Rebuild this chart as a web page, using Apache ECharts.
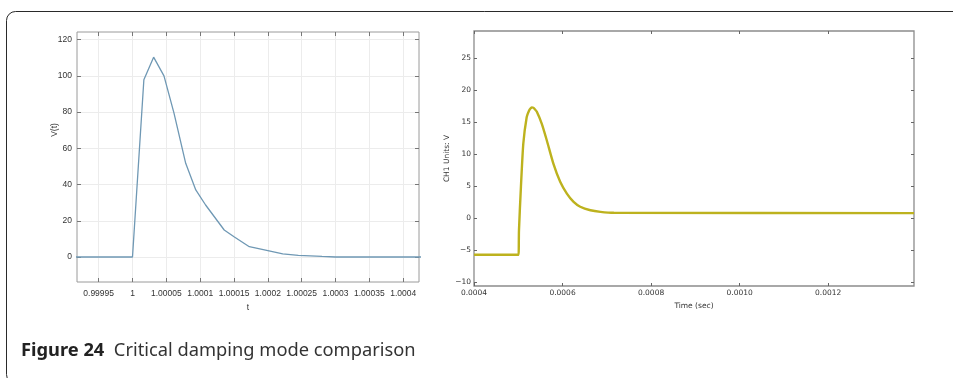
<!DOCTYPE html>
<html>
<head>
<meta charset="utf-8">
<script src="https://cdn.jsdelivr.net/npm/echarts@6/dist/echarts.min.js"></script>
<style>
html,body{margin:0;padding:0;background:#fff;}
#c{width:953px;height:378px;}
</style>
</head>
<body>
<div id="c"></div>
<script>
// ---- Left chart (simulation) ----
const leftT = [0.99990, 1.0, 1.0000168, 1.0000312, 1.0000465, 1.0000613, 1.0000786, 1.0000935, 1.000108, 1.0001355, 1.00015, 1.0001726, 1.0002, 1.000222, 1.000245, 1.00028, 1.0003, 1.00045];
const leftV = [0, 0, 97.8, 110.3, 100, 79.4, 51.7, 37, 28.7, 14.9, 11.2, 5.7, 3.5, 1.7, 0.9, 0.3, 0, 0];
const leftXTicks = [0.99995, 1, 1.00005, 1.0001, 1.00015, 1.0002, 1.00025, 1.0003, 1.00035, 1.0004];
const leftXLabels = ['0.99995', '1', '1.00005', '1.0001', '1.00015', '1.0002', '1.00025', '1.0003', '1.00035', '1.0004'];
const leftYTicks = [0, 20, 40, 60, 80, 100, 120];

// ---- Right chart (oscilloscope) ----
const rightT = [0.0004, 0.000501, 0.0005015, 0.0005016, 0.000506, 0.0005114, 0.000519, 0.000524, 0.000528, 0.000531, 0.000534, 0.000537, 0.0005417, 0.000553, 0.0005644, 0.0005795, 0.0005947, 0.0006098, 0.000625, 0.00064, 0.000663, 0.0006856, 0.000716, 0.001394];
const rightV = [-5.7, -5.7, -5.7, -1.9, 4.9, 11.7, 15.8, 16.8, 17.2, 17.35, 17.3, 17.1, 16.7, 14.8, 12.2, 8.5, 5.7, 3.85, 2.55, 1.8, 1.25, 1.0, 0.85, 0.8];
const rightXTicks = [0.0004, 0.0006, 0.0008, 0.0010, 0.0012];
const rightXLabels = ['0.0004', '0.0006', '0.0008', '0.0010', '0.0012'];
const rightYTicks = [-10, -5, 0, 5, 10, 15, 20, 25];
const rightYLabels = ['\u221210', '\u22125', '0', '5', '10', '15', '20', '25'];

const leftData = leftT.map((t, i) => [t, leftV[i]]);
const rightData = rightT.map((t, i) => [t, rightV[i]]);

const chart = echarts.init(document.getElementById('c'), null, {renderer: 'canvas'});

const lFont = {fontFamily: 'Liberation Sans, Arial, sans-serif', fontSize: 8.5, color: '#333'};
const rFont = {fontFamily: 'DejaVu Sans, sans-serif', fontSize: 7.5, color: '#333'};

function nearestLabel(ticks, labels, v) {
  let best = 0, bd = 1e9;
  ticks.forEach((t, i) => { const d = Math.abs(t - v); if (d < bd) { bd = d; best = i; } });
  return labels[best];
}
const fmtLeft = v => nearestLabel(leftXTicks, leftXLabels, v);
const fmtRightX = v => nearestLabel(rightXTicks, rightXLabels, v);
const fmtRightY = v => nearestLabel(rightYTicks, rightYLabels, v);

const LXMIN = 0.999918, LXMAX = 1.0004233, LYMIN = -13.8, LYMAX = 124.2;
const RXMIN = 0.0004, RXMAX = 0.001394, RYMIN = -10.6, RYMAX = 29.3;

function tickAxis(extra) {
  return Object.assign({
    type: 'value',
    axisLine: {show: false, onZero: false},
    splitLine: {show: false}
  }, extra);
}

const option = {
  animation: false,
  backgroundColor: '#fff',
  grid: [
    {left: 77, top: 32, width: 342, height: 250, show: true, borderColor: '#9a9a9a', borderWidth: 1, backgroundColor: 'transparent'},
    {left: 474, top: 31, width: 440, height: 255, show: true, borderColor: '#8c8c8c', borderWidth: 1.3, backgroundColor: 'transparent'}
  ],
  xAxis: [
    tickAxis({gridIndex: 0, min: LXMIN, max: LXMAX, position: 'bottom',
     name: 't', nameLocation: 'middle', nameGap: 19, nameTextStyle: lFont,
     axisTick: {show: true, inside: true, length: 4, customValues: leftXTicks, lineStyle: {color: '#777'}},
     axisLabel: {customValues: leftXTicks, formatter: fmtLeft, margin: 7, ...lFont},
     splitLine: {show: true, lineStyle: {color: '#ececec', width: 1}}}),
    tickAxis({gridIndex: 0, min: LXMIN, max: LXMAX, position: 'top',
     axisTick: {show: true, inside: true, length: 4, customValues: leftXTicks, lineStyle: {color: '#777'}},
     axisLabel: {show: false}}),
    tickAxis({gridIndex: 1, min: RXMIN, max: RXMAX, position: 'bottom',
     name: 'Time (sec)', nameLocation: 'middle', nameGap: 12, nameTextStyle: rFont,
     axisTick: {show: true, inside: true, length: 3, customValues: rightXTicks, lineStyle: {color: '#666'}},
     axisLabel: {customValues: rightXTicks, formatter: fmtRightX, margin: 3, ...rFont}}),
    tickAxis({gridIndex: 1, min: RXMIN, max: RXMAX, position: 'top',
     axisTick: {show: true, inside: true, length: 3, customValues: rightXTicks, lineStyle: {color: '#666'}},
     axisLabel: {show: false}})
  ],
  yAxis: [
    tickAxis({gridIndex: 0, min: LYMIN, max: LYMAX, position: 'left',
     axisTick: {show: true, inside: true, length: 4, customValues: leftYTicks, lineStyle: {color: '#777'}},
     axisLabel: {customValues: leftYTicks, margin: 5, ...lFont},
     splitLine: {show: true, lineStyle: {color: '#ececec', width: 1}}}),
    tickAxis({gridIndex: 0, min: LYMIN, max: LYMAX, position: 'right',
     axisTick: {show: true, inside: true, length: 4, customValues: leftYTicks, lineStyle: {color: '#777'}},
     axisLabel: {show: false}}),
    tickAxis({gridIndex: 1, min: RYMIN, max: RYMAX, position: 'left',
     name: 'CH1 Units: V', nameLocation: 'middle', nameGap: 22, nameTextStyle: rFont,
     axisTick: {show: true, inside: true, length: 3, customValues: rightYTicks, lineStyle: {color: '#666'}},
     axisLabel: {customValues: rightYTicks, formatter: fmtRightY, margin: 3, ...rFont}}),
    tickAxis({gridIndex: 1, min: RYMIN, max: RYMAX, position: 'right',
     axisTick: {show: true, inside: true, length: 3, customValues: rightYTicks, lineStyle: {color: '#666'}},
     axisLabel: {show: false}})
  ],
  series: [
    {type: 'line', xAxisIndex: 0, yAxisIndex: 0, data: leftData, showSymbol: false, clip: true,
     lineStyle: {color: '#6f98b4', width: 1.3}},
    {type: 'line', xAxisIndex: 2, yAxisIndex: 2, data: rightData, showSymbol: false, clip: true,
     smooth: 0.2,
     lineStyle: {color: '#bdb21e', width: 2.4}}
  ],
  graphic: [
    {type: 'rect', left: 4, top: 9, z: 100, silent: true,
     shape: {width: 1010, height: 372, r: 9},
     style: {fill: 'none', stroke: '#2a2a2a', lineWidth: 1}},
    {type: 'text', x: 55, y: 130, rotation: Math.PI / 2, z: 100,
     style: {text: 'V(t)', fill: '#333', font: '8.5px Liberation Sans, Arial, sans-serif', align: 'center', verticalAlign: 'middle'}},
    {type: 'text', left: 21, top: 342, z: 100,
     style: {rich: {b: {fontWeight: 'bold', fontSize: 18.3, fontFamily: 'Noto Sans, Open Sans, sans-serif', fill: '#222'},
                    r: {fontSize: 18.3, fontFamily: 'Noto Sans, Open Sans, sans-serif', fill: '#333'}},
             text: '{b|Figure 24}{r|  Critical damping mode comparison}'}}
  ]
};
chart.setOption(option);
</script>
</body>
</html>
